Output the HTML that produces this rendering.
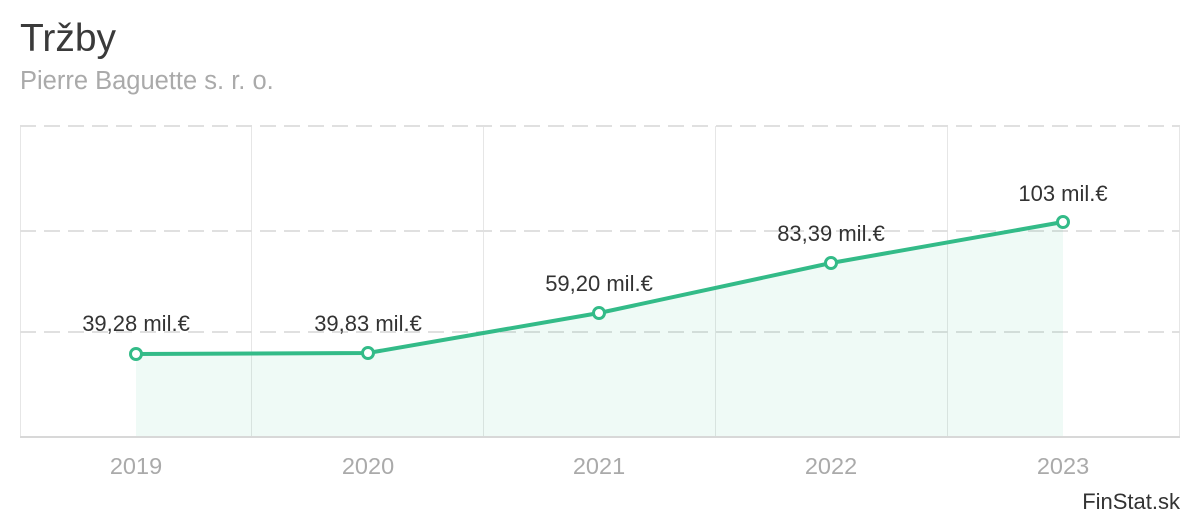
<!DOCTYPE html>
<html><head><meta charset="utf-8"><style>
body{margin:0;background:#fff;width:1200px;height:520px;overflow:hidden;font-family:"Liberation Sans",sans-serif}
</style></head><body>
<svg width="1200" height="520" xmlns="http://www.w3.org/2000/svg" font-family="Liberation Sans, sans-serif">
<text x="20" y="51" font-size="39" fill="#3a3a3a">Tržby</text>
<text x="20" y="89" font-size="25.5" fill="#aaa">Pierre Baguette s. r. o.</text>
<g stroke="#e6e6e6" stroke-width="1">
<line x1="20.5" y1="126" x2="20.5" y2="437"/>
<line x1="251.5" y1="126" x2="251.5" y2="437"/>
<line x1="483.5" y1="126" x2="483.5" y2="437"/>
<line x1="715.5" y1="126" x2="715.5" y2="437"/>
<line x1="947.5" y1="126" x2="947.5" y2="437"/>
<line x1="1179.5" y1="126" x2="1179.5" y2="437"/>
</g>
<g stroke="#e0e0e0" stroke-width="2" stroke-dasharray="16,8">
<line x1="20" y1="126" x2="1180" y2="126"/>
<line x1="20" y1="231" x2="1180" y2="231"/>
<line x1="20" y1="332" x2="1180" y2="332"/>
</g>
<line x1="20" y1="437" x2="1180" y2="437" stroke="#d8d8d8" stroke-width="2"/>
<polygon points="136,354 368,353 599,313 831,263 1063,222 1063,436 136,436" fill="#33bb88" fill-opacity="0.08"/>
<polyline points="136,354 368,353 599,313 831,263 1063,222" fill="none" stroke="#33bb88" stroke-width="4"/>
<g fill="#fff" stroke="#33bb88" stroke-width="3">
<circle cx="136" cy="354" r="5.5"/><circle cx="368" cy="353" r="5.5"/><circle cx="599" cy="313" r="5.5"/><circle cx="831" cy="263" r="5.5"/><circle cx="1063" cy="222" r="5.5"/>
</g>
<g font-size="22" fill="#333" text-anchor="middle">
<text x="136" y="331">39,28 mil.€</text>
<text x="368" y="331">39,83 mil.€</text>
<text x="599" y="291">59,20 mil.€</text>
<text x="831" y="241">83,39 mil.€</text>
<text x="1063" y="201">103 mil.€</text>
</g>
<g font-size="23.5" fill="#aaa" text-anchor="middle">
<text x="136" y="474">2019</text><text x="368" y="474">2020</text><text x="599" y="474">2021</text><text x="831" y="474">2022</text><text x="1063" y="474">2023</text>
</g>
<text x="1180" y="509" font-size="22" fill="#333" text-anchor="end">FinStat.sk</text>
</svg>
</body></html>
